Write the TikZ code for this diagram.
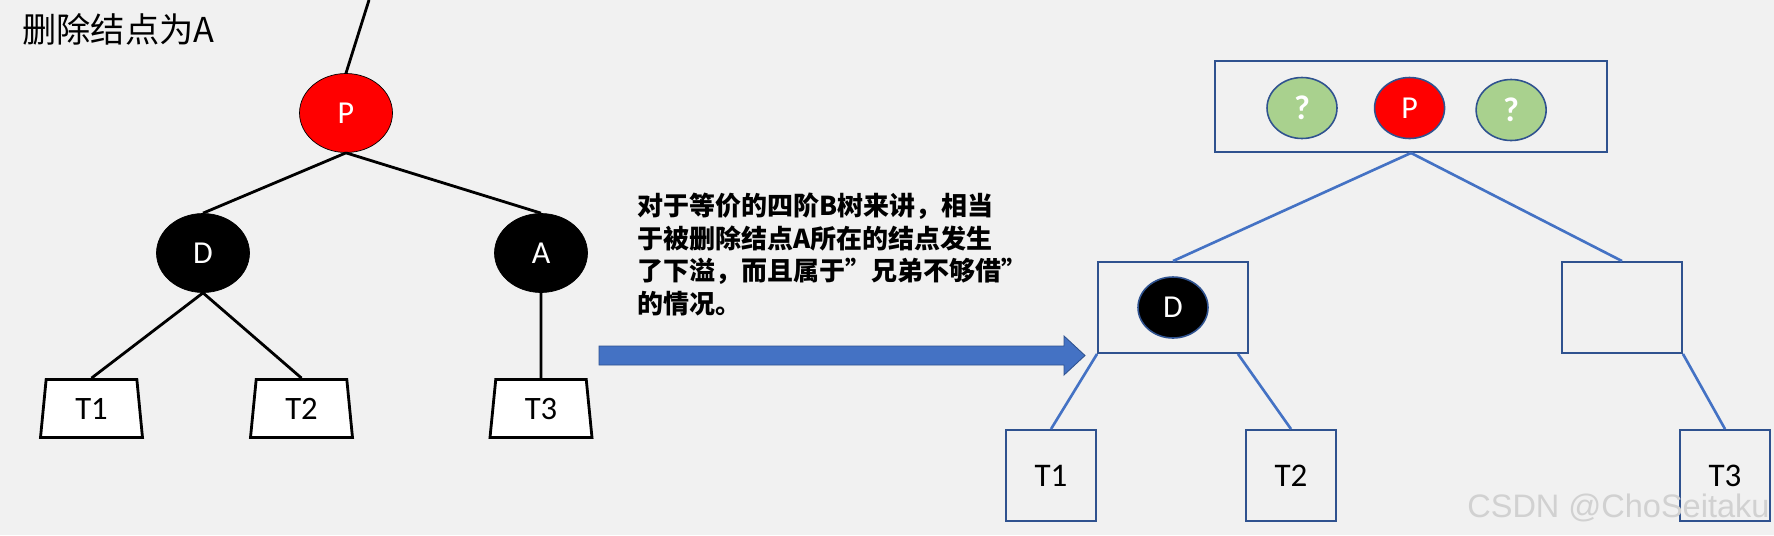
\documentclass[tikz,border=0pt]{standalone}
\usepackage{fontspec}
\setmainfont{Carlito}
\newfontfamily\cjk{Noto Sans CJK SC}
\newfontfamily\wmfont{Liberation Sans}
\usetikzlibrary{positioning, shapes.geometric}
\definecolor{pagebg}{HTML}{F1F1F1}
\definecolor{rbred}{HTML}{FF0000}
\definecolor{keygreen}{HTML}{A9D18E}
\definecolor{linkblue}{HTML}{4472C4}
\definecolor{edgeblue}{HTML}{2F528F}

\begin{document}
\begin{tikzpicture}[x=0.02cm, y=-0.02cm,
    rbnode/.style={ellipse, draw=black, thin, minimum width=1.86cm, minimum height=1.58cm, inner sep=0pt, text=white, font=\fontsize{18.2}{20}\selectfont},
    subtree/.style={trapezium, draw, line width=1.6pt, fill=white, trapezium angle=75, trapezium stretches body, minimum width=2.04cm, minimum height=1.16cm, inner sep=0pt, font=\fontsize{18.6}{20}\selectfont},
    keynode/.style={ellipse, draw=edgeblue, line width=0.9pt, minimum width=1.40cm, minimum height=1.22cm, inner sep=0pt, text=white, font=\fontsize{18.2}{20}\selectfont},
    bnode/.style={rectangle, draw=edgeblue, line width=1.1pt, inner sep=0pt, minimum height=1.82cm},
    leaf/.style={bnode, minimum width=1.8cm, font=\fontsize{18.8}{20}\selectfont},
    tline/.style={line width=1.6pt},
    blink/.style={draw=linkblue, line width=1.5pt}
]

% Page
\fill[pagebg] (0,0) rectangle (1774,535);
\useasboundingbox (0,0) rectangle (1774,535);

\node[anchor=base west, inner sep=0pt, font=\cjk\fontsize{19.5}{22}\selectfont] (title) at (22,42) {删除结点为A};

% Red-black tree
\node[rbnode, fill=rbred] (p) at (346,113) {P};
\node[rbnode, fill=black] (d) at (203,253) {D};
\node[rbnode, fill=black] (a) at (541,253) {A};
\node[subtree] (t1) at (91.5,408.5) {T1};
\node[subtree] (t2) at (301.5,408.5) {T2};
\node[subtree] (t3) at (541,408.5) {T3};

\coordinate (ptop) at (369,0);
\draw[tline] (p.north) -- (ptop);
\draw[tline] (p.south) -- (d.north);
\draw[tline] (p.south) -- (a.north);
\draw[tline] (d.south) -- (t1.north);
\draw[tline] (d.south) -- (t2.north);
\draw[tline] (a.south) -- (t3.north);

% Note and arrow
\node[anchor=north west, align=left, inner sep=0pt, font=\cjk\bfseries\fontsize{14.8}{18.5}\selectfont] (note) at (637,193)
  {对于等价的四阶B树来讲，相当\\于被删除结点A所在的结点发生\\了下溢，而且属于”兄弟不够借”\\的情况。};
\fill[linkblue, draw=edgeblue, line width=0.5pt] (599,346) -- (1064,346) -- (1064,336) -- (1085,355.5) -- (1064,375) -- (1064,365) -- (599,365) -- cycle;

% 2-3-4 tree
\node[bnode, minimum width=7.84cm] (root) at (1411,106.5) {};
\node[keynode, fill=keygreen, font=\fontsize{19.5}{20}\selectfont\bfseries] (q1) at (1302,108) {?};
\node[keynode, fill=rbred, right=0.72cm of q1] (kp) {P};
\node[keynode, fill=keygreen, font=\fontsize{19.5}{20}\selectfont\bfseries, right=0.6cm of kp, yshift=-0.04cm] (q2) {?};

\node[bnode, minimum width=3.0cm] (lchild) at (1173,307.5) {};
\node[keynode, fill=black] (kd) at (lchild) {D};
\node[bnode, minimum width=2.4cm] (rchild) at (1622,307.5) {};

\node[leaf] (t1b) at (1051,475.5) {T1};
\node[leaf] (t2b) at (1291,475.5) {T2};
\node[leaf] (t3b) at (1725,475.5) {T3};

\draw[blink] (root.south) -- (lchild.north);
\draw[blink] (root.south) -- (rchild.north);
\draw[blink] (lchild.south west) -- (t1b.north);
\draw[blink] ([xshift=-0.22cm]lchild.south east) -- (t2b.north);
\draw[blink] (rchild.south east) -- (t3b.north);

\node[anchor=base west, inner sep=0pt, text=black!18, font=\wmfont\fontsize{18.5}{20}\selectfont] (wm) at (1467,517) {CSDN @ChoSeitaku};

\end{tikzpicture}
\end{document}
